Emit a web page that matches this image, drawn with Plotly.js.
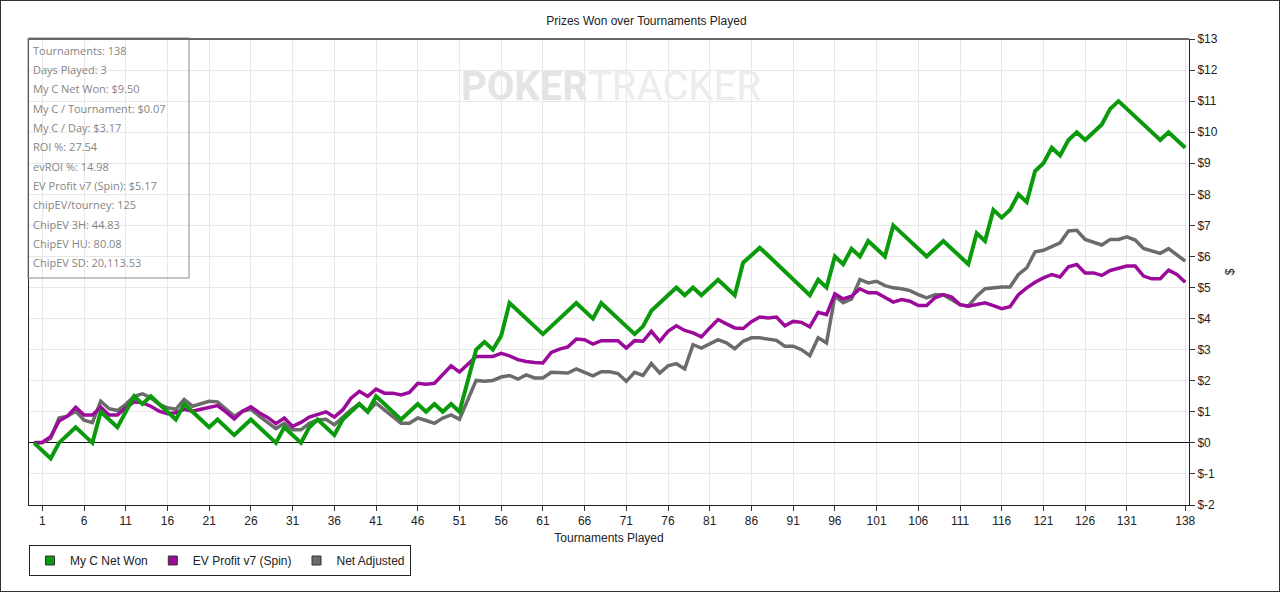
<!DOCTYPE html>
<html>
<head>
<meta charset="utf-8">
<script src="https://cdn.plot.ly/plotly-3.0.1.min.js"></script>
<style>
  html, body { margin: 0; padding: 0; background: #fff; }
  #wrap { position: relative; width: 1280px; height: 593px; }
  #chart { width: 1280px; height: 593px; }
  #frame { position: absolute; left: 0; top: 0; width: 1278px; height: 590px; border: 1px solid #333; pointer-events: none; }
</style>
</head>
<body>
<div id="wrap"><div id="chart"></div><div id="frame"></div></div>
<script>
// ---- Data ----
const seriesNames = ["My C Net Won", "EV Profit v7 (Spin)", "Net Adjusted"];
const seriesColors = ["#0b9a0b", "#9c0a9c", "#6b6b6b"];

const tournaments = Array.from({length: 139}, (_, i) => i);

const myCNetWon = [
  0, -0.25, -0.5, 0, 0.25, 0.5, 0.25, 0, 1.0, 0.75,
  0.5, 1.0, 1.5, 1.25, 1.5, 1.25, 1.0, 0.75, 1.25, 1.0,
  0.75, 0.5, 0.75, 0.5, 0.25, 0.5, 0.75, 0.5, 0.25, 0,
  0.5, 0.25, 0, 0.5, 0.75, 0.5, 0.25, 0.75, 1.0, 1.25,
  1.0, 1.5, 1.25, 1.0, 0.75, 1.0, 1.25, 1.0, 1.25, 1.0,
  1.25, 1.0, 2.0, 3.0, 3.25, 3.0, 3.45, 4.5, 4.25, 4.0,
  3.75, 3.5, 3.75, 4.0, 4.25, 4.5, 4.25, 4.0, 4.5, 4.25,
  4.0, 3.75, 3.5, 3.75, 4.25, 4.5, 4.75, 5.0, 4.75, 5.0,
  4.75, 5.0, 5.25, 5.0, 4.75, 5.8, 6.05, 6.28, 6.03, 5.77,
  5.51, 5.25, 5.0, 4.75, 5.25, 5.0, 6.0, 5.75, 6.25, 6.0,
  6.5, 6.25, 6.0, 7.0, 6.75, 6.5, 6.25, 6.0, 6.25, 6.5,
  6.25, 6.0, 5.75, 6.75, 6.5, 7.5, 7.25, 7.5, 8.0, 7.75,
  8.75, 9.0, 9.5, 9.25, 9.75, 10.0, 9.75, 10.0, 10.25, 10.75,
  11.0, 10.75, 10.5, 10.25, 10.0, 9.75, 10.0, 9.75, 9.5
];

const evProfit = [
  0, 0.02, 0.2, 0.7, 0.86, 1.15, 0.9, 0.9, 1.15, 0.9,
  0.9, 1.13, 1.32, 1.29, 1.18, 1.02, 0.94, 0.97, 1.08, 1.02,
  1.08, 1.13, 1.2, 1.0, 0.77, 1.02, 1.16, 0.97, 0.82, 0.62,
  0.8, 0.53, 0.66, 0.83, 0.92, 1.0, 0.83, 1.06, 1.44, 1.66,
  1.5, 1.73, 1.6, 1.6, 1.54, 1.62, 1.92, 1.89, 1.92, 2.19,
  2.48, 2.28, 2.52, 2.78, 2.78, 2.78, 2.88, 2.8, 2.68, 2.62,
  2.59, 2.57, 2.91, 3.02, 3.09, 3.34, 3.32, 3.18, 3.29, 3.29,
  3.29, 3.05, 3.29, 3.27, 3.59, 3.27, 3.59, 3.77, 3.62, 3.54,
  3.41, 3.7, 3.97, 3.83, 3.7, 3.68, 3.9, 4.05, 4.02, 4.05,
  3.77, 3.91, 3.88, 3.73, 4.2, 4.13, 4.8, 4.63, 4.72, 4.96,
  4.83, 4.83, 4.69, 4.53, 4.61, 4.56, 4.42, 4.42, 4.67, 4.77,
  4.69, 4.45, 4.4, 4.45, 4.51, 4.42, 4.32, 4.38, 4.77, 4.99,
  5.17, 5.31, 5.42, 5.34, 5.67, 5.74, 5.47, 5.47, 5.39, 5.55,
  5.61, 5.69, 5.69, 5.37, 5.28, 5.28, 5.56, 5.42, 5.17
];

const netAdjusted = [
  0, 0, 0.15, 0.8, 0.86, 1.02, 0.73, 0.65, 1.34, 1.1,
  1.04, 1.24, 1.5, 1.58, 1.45, 1.24, 1.13, 1.08, 1.4, 1.18,
  1.26, 1.34, 1.32, 1.1, 0.86, 1.02, 1.08, 0.86, 0.67, 0.46,
  0.63, 0.42, 0.42, 0.63, 0.74, 0.76, 0.58, 0.83, 1.06, 1.26,
  1.0, 1.28, 1.06, 0.83, 0.63, 0.63, 0.8, 0.72, 0.63, 0.8,
  0.9, 0.76, 1.39, 2.01, 1.98, 2.01, 2.12, 2.17, 2.05, 2.19,
  2.09, 2.09, 2.27, 2.27, 2.25, 2.38, 2.27, 2.16, 2.29, 2.29,
  2.23, 1.98, 2.27, 2.17, 2.55, 2.25, 2.48, 2.55, 2.38, 3.16,
  3.05, 3.19, 3.32, 3.22, 3.03, 3.27, 3.38, 3.38, 3.34, 3.3,
  3.11, 3.11, 3.0, 2.81, 3.38, 3.22, 4.72, 4.51, 4.63, 5.26,
  5.15, 5.2, 5.06, 4.99, 4.96, 4.9, 4.77, 4.67, 4.77, 4.77,
  4.61, 4.45, 4.4, 4.72, 4.96, 4.99, 5.02, 5.02, 5.42, 5.63,
  6.15, 6.2, 6.33, 6.44, 6.82, 6.84, 6.55, 6.47, 6.37, 6.55,
  6.55, 6.63, 6.53, 6.26, 6.17, 6.1, 6.25, 6.06, 5.85
];

const xTickVals = [1, 6, 11, 16, 21, 26, 31, 36, 41, 46, 51, 56, 61, 66, 71, 76, 81, 86, 91, 96, 101, 106, 111, 116, 121, 126, 131, 138];
const yTickVals = [-2, -1, 0, 1, 2, 3, 4, 5, 6, 7, 8, 9, 10, 11, 12, 13];
const yTickText = yTickVals.map(v => "$" + v);

const infoLines = [
  "Tournaments: 138",
  "Days Played: 3",
  "My C Net Won: $9.50",
  "My C / Tournament: $0.07",
  "My C / Day: $3.17",
  "ROI %: 27.54",
  "evROI %: 14.98",
  "EV Profit v7 (Spin): $5.17",
  "chipEV/tourney: 125",
  "ChipEV 3H: 44.83",
  "ChipEV HU: 80.08",
  "ChipEV SD: 20,113.53"
];

// ---- Traces ----
const seriesData = [myCNetWon, evProfit, netAdjusted];
const widths = [4, 3.5, 3.5];
const drawOrder = [2, 1, 0];
const traces = [];
drawOrder.forEach(k => {
  traces.push({
    type: "scatter", mode: "lines", x: tournaments, y: seriesData[k],
    line: {color: seriesColors[k], width: widths[k]},
    showlegend: false, hoverinfo: "x+y", name: seriesNames[k]
  });
});
[0, 1, 2].forEach(k => {
  traces.push({
    type: "scatter", mode: "markers", x: [null], y: [null], name: seriesNames[k],
    marker: {symbol: "square", size: 9, color: seriesColors[k], line: {color: "#333", width: 1}},
    showlegend: true
  });
});

// ---- Layout ----
const plotL = 29, plotR = 1189, plotT = 39, plotB = 505;
const pw = plotR - plotL, ph = plotB - plotT;
const px = v => (v - plotL) / pw;
const py = v => (plotB - v) / ph;

const annotations = [];
infoLines.forEach((t, i) => {
  annotations.push({
    xref: "paper", yref: "paper", x: px(31), y: py(50 + 19.35 * i),
    xanchor: "left", yanchor: "middle", showarrow: false, text: t,
    font: {family: "Open Sans, Noto Sans, sans-serif", size: 11, color: "#858585"}
  });
});
annotations.push({
  xref: "paper", yref: "paper", x: px(611), y: py(87), xanchor: "center", yanchor: "middle",
  showarrow: false,
  text: "<b><span style='color:#e4e4e4'>POKER</span></b><span style='color:#ececec'>TRACKER</span>",
  font: {family: "Liberation Sans Narrow, Roboto, Liberation Sans, sans-serif", size: 40, color: "#e8e8e8"}
});

const shapes = [
  {type: "rect", xref: "paper", yref: "paper", x0: px(28), x1: px(189), y0: py(278), y1: py(38),
   fillcolor: "rgba(0,0,0,0)", line: {color: "#888", width: 1}, layer: "above"},
  {type: "line", xref: "paper", yref: "paper", x0: 0, x1: 1, y0: 1, y1: 1,
   line: {color: "#666", width: 2}, layer: "above"}
];

const layout = {
  width: 1280, height: 593,
  margin: {l: plotL, r: 1280 - plotR, t: plotT, b: 593 - plotB, pad: 0},
  paper_bgcolor: "#fff", plot_bgcolor: "#fff",
  font: {family: "Liberation Sans, Arial, sans-serif", size: 12, color: "#222"},
  title: {text: "Prizes Won over Tournaments Played", x: 0.505, xref: "container", y: 1 - 21 / 593, yref: "container",
          xanchor: "center", yanchor: "middle", font: {size: 12, color: "#222"}},
  xaxis: {
    range: [-0.6, 138.45], tickvals: xTickVals, ticktext: xTickVals.map(String),
    showgrid: true, gridcolor: "#e8e8e8", gridwidth: 1, zeroline: false,
    ticks: "outside", ticklen: 5, tickcolor: "#333",
    showline: true, linecolor: "#222", linewidth: 1, mirror: false,
    tickfont: {size: 12, color: "#222"},
    title: {text: "Tournaments Played", standoff: 6, font: {size: 12, color: "#222"}}
  },
  yaxis: {
    side: "right", range: [-2, 13], tickvals: yTickVals, ticktext: yTickText,
    showgrid: true, gridcolor: "#e8e8e8", gridwidth: 1,
    zeroline: true, zerolinecolor: "#111", zerolinewidth: 1,
    ticks: "outside", ticklen: 5, tickcolor: "#333",
    showline: true, linecolor: "#222", linewidth: 1, mirror: true,
    tickfont: {size: 12, color: "#222"},
    title: {text: "$", standoff: 8, font: {size: 12, color: "#222"}}
  },
  legend: {
    orientation: "h", x: 0, xanchor: "left", y: py(545), yanchor: "top",
    bordercolor: "#222", borderwidth: 1, bgcolor: "#fff", itemwidth: 30,
    font: {size: 12, color: "#222"}, itemclick: false
  },
  showlegend: true,
  annotations: annotations,
  shapes: shapes
};

Plotly.newPlot("chart", traces, layout, {displayModeBar: false, staticPlot: true});
</script>
</body>
</html>
